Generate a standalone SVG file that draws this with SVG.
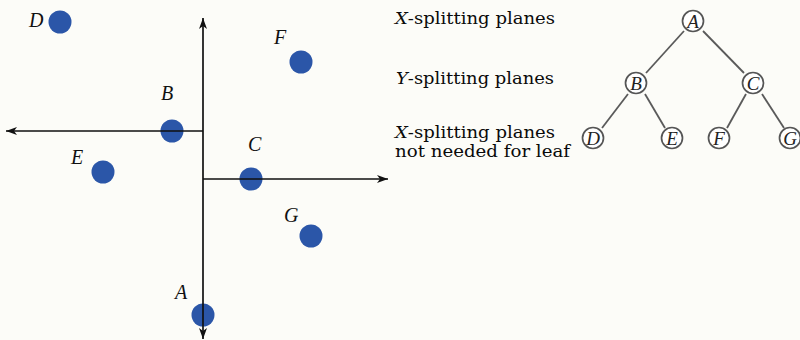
<svg xmlns="http://www.w3.org/2000/svg" width="800" height="340" viewBox="0 0 800 340">
  <style>
    .pt { fill: #2b56a8; }
    .ptlabel { font-family: "Liberation Serif", "Times New Roman", serif; font-style: italic; font-size: 20px; fill: #111; }
    .axis { stroke: #111; stroke-width: 1.7; fill: none; }
    .edge { stroke: #5a5a5a; stroke-width: 1.8; fill: none; }
    .tnode { fill: #fff; stroke: #555; stroke-width: 1.7; }
    .tlabel { font-family: "Liberation Serif", "Times New Roman", serif; font-style: italic; font-size: 19px; fill: #222; text-anchor: middle; }
    .cap { font-family: "DejaVu Serif", "Liberation Serif", serif; font-size: 17px; fill: #0a0a0a; }
  </style>
  <defs>
    <marker id="stealth" markerUnits="userSpaceOnUse" markerWidth="12" markerHeight="10" refX="11" refY="4" orient="auto-start-reverse" viewBox="0 0 12 8">
      <path d="M0,0 L11,4 L0,8 L3,4 Z" fill="#111"/>
    </marker>
  </defs>
  <rect x="0" y="0" width="800" height="340" fill="#fcfcf8"/>

  <!-- points -->
  <g id="point-D"><circle class="pt" cx="60" cy="22" r="11.5"/><text class="ptlabel" x="29" y="27">D</text></g>
  <g id="point-F"><circle class="pt" cx="301" cy="62" r="11.5"/><text class="ptlabel" x="274" y="44">F</text></g>
  <g id="point-B"><circle class="pt" cx="172" cy="131" r="11.5"/><text class="ptlabel" x="161" y="100">B</text></g>
  <g id="point-E"><circle class="pt" cx="103" cy="172" r="11.5"/><text class="ptlabel" x="71" y="164">E</text></g>
  <g id="point-C"><circle class="pt" cx="251" cy="179" r="11.5"/><text class="ptlabel" x="248" y="151">C</text></g>
  <g id="point-G"><circle class="pt" cx="311" cy="236" r="11.5"/><text class="ptlabel" x="284" y="222">G</text></g>
  <g id="point-A"><circle class="pt" cx="203" cy="315" r="11.5"/><text class="ptlabel" x="175" y="299">A</text></g>

  <!-- splitting axes and tree edges -->
  <g id="connectors">
    <path class="axis" d="M203,18 L203,339" marker-start="url(#stealth)" marker-end="url(#stealth)"/>
    <path class="axis" d="M203,131 L6,131" marker-end="url(#stealth)"/>
    <path class="axis" d="M203,179 L388,179" marker-end="url(#stealth)"/>
    <line class="edge" x1="684" y1="31" x2="646" y2="73"/>
    <line class="edge" x1="703" y1="31" x2="744" y2="73"/>
    <line class="edge" x1="628" y1="94" x2="602" y2="128"/>
    <line class="edge" x1="645" y1="94" x2="665" y2="128"/>
    <line class="edge" x1="746" y1="94" x2="727" y2="128"/>
    <line class="edge" x1="762" y1="94" x2="784" y2="128"/>
  </g>

  <!-- captions -->
  <text class="cap" x="395" y="24" textLength="160" lengthAdjust="spacingAndGlyphs"><tspan font-style="italic">X</tspan>-splitting planes</text>
  <text class="cap" x="396" y="84" textLength="158" lengthAdjust="spacingAndGlyphs"><tspan font-style="italic">Y</tspan>-splitting planes</text>
  <text class="cap" x="395" y="138" textLength="160" lengthAdjust="spacingAndGlyphs"><tspan font-style="italic">X</tspan>-splitting planes</text>
  <text class="cap" x="395" y="157" textLength="175" lengthAdjust="spacingAndGlyphs">not needed for leaf</text>

  <!-- tree nodes -->
  <g id="tree-A"><circle class="tnode" cx="693" cy="21" r="10.5"/><text class="tlabel" x="693" y="27.5">A</text></g>
  <g id="tree-B"><circle class="tnode" cx="636" cy="83" r="10.5"/><text class="tlabel" x="636" y="89.5">B</text></g>
  <g id="tree-C"><circle class="tnode" cx="753" cy="83" r="10.5"/><text class="tlabel" x="753" y="89.5">C</text></g>
  <g id="tree-D"><circle class="tnode" cx="593" cy="138" r="10.5"/><text class="tlabel" x="593" y="144.5">D</text></g>
  <g id="tree-E"><circle class="tnode" cx="672" cy="138" r="10.5"/><text class="tlabel" x="672" y="144.5">E</text></g>
  <g id="tree-F"><circle class="tnode" cx="719" cy="138" r="10.5"/><text class="tlabel" x="719" y="144.5">F</text></g>
  <g id="tree-G"><circle class="tnode" cx="790" cy="138" r="10.5"/><text class="tlabel" x="790" y="144.5">G</text></g>
</svg>
